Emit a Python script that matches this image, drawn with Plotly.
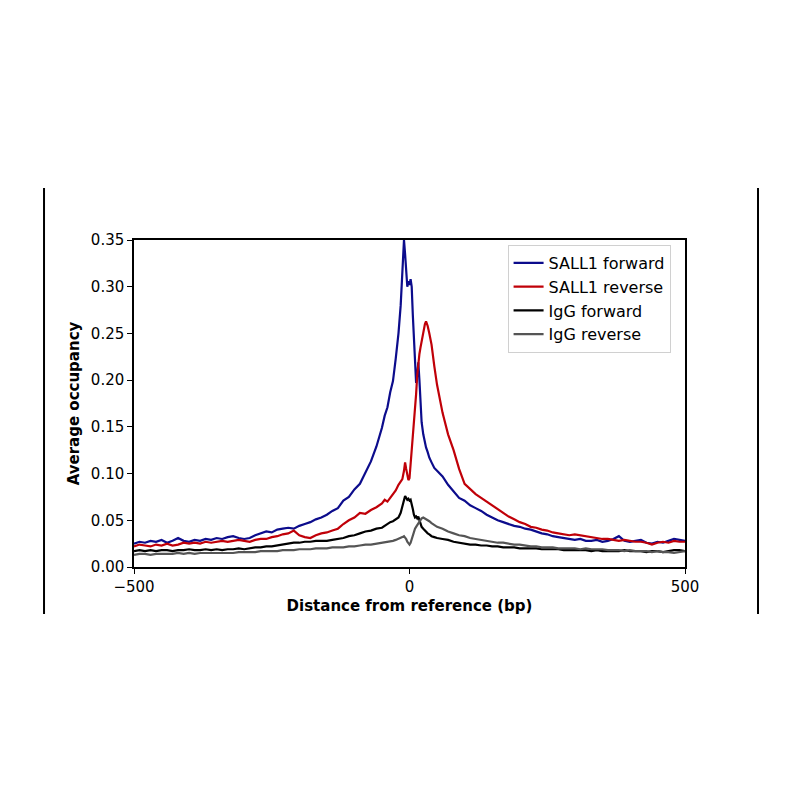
import plotly.graph_objects as go

# distance from reference (bp)
pos_left = [-500, -490, -480, -470, -460, -450, -440, -430, -420, -410,
            -400, -390, -380, -370, -360, -350, -340, -330, -320, -310,
            -300, -290, -280, -270, -260, -250, -240, -230, -220, -210,
            -200, -190, -180, -170, -160, -150, -140, -130, -120, -110,
            -100, -90, -80, -70, -60, -50]
pos_center = [-45, -40, -35, -30, -25, -20, -16, -13, -10, -8, -6, -4, -2, 0,
              2, 4, 6, 8, 10, 12, 14, 16, 18, 20, 22, 25, 28, 30, 33, 36, 40, 45]
pos_right = [50, 60, 70, 80, 90, 100, 110, 120, 130, 140,
             150, 160, 170, 180, 190, 200, 210, 220, 230, 240,
             250, 260, 270, 280, 290, 300, 310, 320, 330, 340,
             350, 360, 370, 380, 390, 400, 410, 420, 430, 440,
             450, 460, 470, 480, 490, 500]
positions = pos_left + pos_center + pos_right

sall1_fwd = [
    0.025, 0.027, 0.026, 0.028, 0.027, 0.029, 0.026, 0.028, 0.031, 0.028,
    0.027, 0.029, 0.028, 0.030, 0.029, 0.031, 0.030, 0.032, 0.033, 0.031,
    0.030, 0.031, 0.034, 0.036, 0.038, 0.037, 0.040, 0.041, 0.042, 0.041,
    0.044, 0.046, 0.048, 0.051, 0.053, 0.056, 0.060, 0.063, 0.071, 0.075,
    0.083, 0.089, 0.101, 0.113, 0.129, 0.149,
    0.162, 0.171, 0.187, 0.199, 0.223, 0.250, 0.280, 0.310, 0.350, 0.335,
    0.318, 0.300, 0.306, 0.302, 0.308, 0.300, 0.270, 0.240, 0.215, 0.197,
    0.205, 0.219, 0.200, 0.170, 0.155, 0.142, 0.133, 0.128, 0.123, 0.117,
    0.112, 0.106,
    0.103, 0.097, 0.088, 0.081, 0.074, 0.071, 0.066, 0.063, 0.060, 0.056,
    0.053, 0.050, 0.048, 0.046, 0.044, 0.043, 0.041, 0.040, 0.038, 0.036,
    0.035, 0.033, 0.032, 0.031, 0.030, 0.029, 0.030, 0.028, 0.028, 0.029,
    0.027, 0.028, 0.030, 0.033, 0.028, 0.027, 0.028, 0.029, 0.026, 0.025,
    0.027, 0.026, 0.028, 0.030, 0.029, 0.028,
]

sall1_rev = [
    0.022, 0.024, 0.023, 0.022, 0.024, 0.023, 0.025, 0.023, 0.024, 0.026,
    0.025, 0.026, 0.025, 0.027, 0.026, 0.027, 0.028, 0.027, 0.028, 0.029,
    0.028, 0.027, 0.029, 0.030, 0.030, 0.032, 0.033, 0.035, 0.036, 0.039,
    0.034, 0.032, 0.031, 0.034, 0.036, 0.037, 0.039, 0.041, 0.046, 0.050,
    0.053, 0.058, 0.057, 0.061, 0.064, 0.068,
    0.072, 0.070, 0.074, 0.078, 0.082, 0.088, 0.091, 0.094, 0.103, 0.112,
    0.105, 0.096, 0.093, 0.095, 0.110, 0.120, 0.130, 0.150, 0.170, 0.185,
    0.205, 0.220, 0.228, 0.235, 0.242, 0.252, 0.260, 0.263, 0.258, 0.250,
    0.238, 0.215,
    0.195, 0.165, 0.142, 0.125, 0.105, 0.089, 0.083, 0.078, 0.074, 0.070,
    0.066, 0.062, 0.058, 0.054, 0.051, 0.048, 0.046, 0.043, 0.042, 0.040,
    0.039, 0.037, 0.036, 0.035, 0.034, 0.035, 0.034, 0.033, 0.032, 0.031,
    0.030, 0.030, 0.029, 0.028, 0.029, 0.028, 0.027, 0.027, 0.026, 0.024,
    0.026, 0.027, 0.026, 0.028, 0.027, 0.027,
]

igg_fwd = [
    0.017, 0.018, 0.017, 0.018, 0.017, 0.018, 0.018, 0.017, 0.018, 0.018,
    0.019, 0.018, 0.018, 0.019, 0.018, 0.019, 0.018, 0.019, 0.019, 0.020,
    0.019, 0.020, 0.021, 0.021, 0.022, 0.022, 0.023, 0.024, 0.025, 0.026,
    0.026, 0.027, 0.027, 0.028, 0.028, 0.028, 0.029, 0.030, 0.031, 0.033,
    0.034, 0.036, 0.038, 0.039, 0.041, 0.042,
    0.044, 0.046, 0.048, 0.049, 0.051, 0.053, 0.058, 0.064, 0.072, 0.076,
    0.074, 0.072, 0.073, 0.071, 0.072, 0.068, 0.062, 0.056, 0.053, 0.054,
    0.052, 0.054, 0.050, 0.046, 0.043, 0.041, 0.039, 0.038, 0.036, 0.035,
    0.033, 0.032,
    0.031, 0.030, 0.029, 0.027, 0.026, 0.025, 0.024, 0.024, 0.023, 0.023,
    0.022, 0.022, 0.021, 0.021, 0.021, 0.020, 0.020, 0.020, 0.020, 0.019,
    0.019, 0.019, 0.019, 0.018, 0.018, 0.018, 0.018, 0.018, 0.017, 0.018,
    0.017, 0.017, 0.017, 0.017, 0.018, 0.017, 0.017, 0.017, 0.016, 0.017,
    0.017, 0.016, 0.017, 0.018, 0.018, 0.017,
]

igg_rev = [
    0.013, 0.014, 0.014, 0.013, 0.014, 0.014, 0.014, 0.014, 0.015, 0.014,
    0.015, 0.014, 0.015, 0.015, 0.015, 0.015, 0.015, 0.015, 0.015, 0.016,
    0.016, 0.016, 0.016, 0.017, 0.017, 0.017, 0.017, 0.018, 0.018, 0.018,
    0.019, 0.019, 0.019, 0.020, 0.020, 0.020, 0.021, 0.021, 0.021, 0.022,
    0.022, 0.023, 0.024, 0.024, 0.025, 0.026,
    0.026, 0.027, 0.027, 0.028, 0.029, 0.030, 0.031, 0.032, 0.033, 0.032,
    0.030, 0.027, 0.025, 0.024, 0.026, 0.030, 0.034, 0.038, 0.041, 0.043,
    0.045, 0.046, 0.049, 0.051, 0.052, 0.053, 0.052, 0.051, 0.050, 0.049,
    0.047, 0.045,
    0.043, 0.041, 0.038, 0.036, 0.034, 0.033, 0.031, 0.030, 0.029, 0.028,
    0.027, 0.026, 0.026, 0.025, 0.024, 0.024, 0.023, 0.022, 0.022, 0.021,
    0.021, 0.021, 0.020, 0.020, 0.020, 0.020, 0.019, 0.020, 0.019, 0.019,
    0.019, 0.018, 0.018, 0.018, 0.017, 0.018, 0.017, 0.017, 0.017, 0.016,
    0.017, 0.016, 0.016, 0.015, 0.016, 0.017,
]

series_names = ["SALL1 forward", "SALL1 reverse", "IgG forward", "IgG reverse"]
series_values = [sall1_fwd, sall1_rev, igg_fwd, igg_rev]
series_colors = ["#0c0c8c", "#c00008", "#000000", "#555555"]

y_ticks = [0.00, 0.05, 0.10, 0.15, 0.20, 0.25, 0.30, 0.35]
x_ticks = [-500, 0, 500]

fig = go.Figure()
for name, vals, col in zip(series_names, series_values, series_colors):
    fig.add_trace(go.Scatter(
        x=positions, y=vals, mode="lines", name=name,
        line=dict(color=col, width=2.2),
    ))

font = "DejaVu Sans, sans-serif"
fig.update_layout(
    width=800, height=800,
    plot_bgcolor="white", paper_bgcolor="white",
    margin=dict(l=126, r=123, t=232, b=241),
    font=dict(family=font, size=15, color="black"),
    showlegend=True,
    legend=dict(
        x=0.678, y=0.985, xanchor="left", yanchor="top",
        bgcolor="white", bordercolor="#d0d0d0", borderwidth=1,
        font=dict(size=16), tracegroupgap=0,
    ),
    xaxis=dict(
        range=[-500, 500], tickvals=x_ticks,
        showline=True, linecolor="black", linewidth=1.5, mirror=True,
        ticks="outside", ticklen=5, tickcolor="black",
        showgrid=False, zeroline=False,
        title=dict(text="<b>Distance from reference (bp)</b>", standoff=6,
                   font=dict(size=15)),
    ),
    yaxis=dict(
        range=[0, 0.35], tickvals=y_ticks, tickformat=".2f",
        showline=True, linecolor="black", linewidth=1.5, mirror=True,
        ticks="outside", ticklen=5, tickcolor="black",
        showgrid=False, zeroline=False,
        title=dict(text="<b>Average occupancy</b>", standoff=8,
                   font=dict(size=15)),
    ),
)

# the two vertical rules either side of the panel
for xp in [-0.1633, 1.1325]:
    fig.add_shape(type="line", xref="paper", yref="paper",
                  x0=xp, x1=xp, y0=-0.1437, y1=1.159,
                  line=dict(color="black", width=2))

fig.write_html("out.html")
